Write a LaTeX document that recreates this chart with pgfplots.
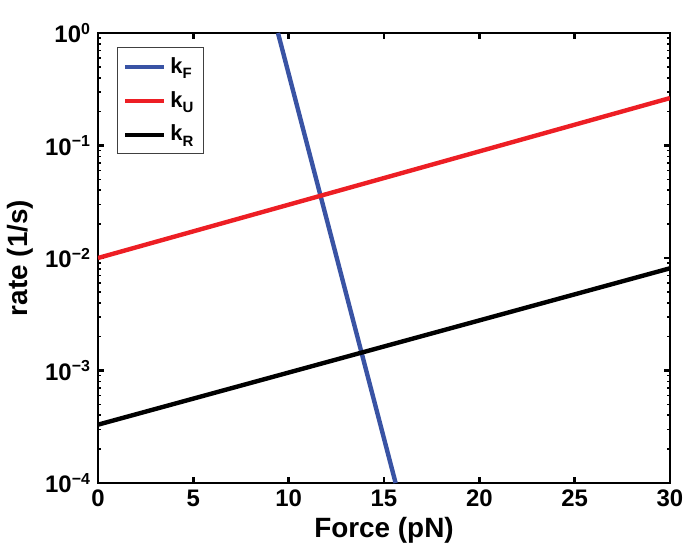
\documentclass[border=0pt]{standalone}
\usepackage{fontspec}
\setmainfont{Liberation Sans}
\usepackage{pgfplots}
\pgfplotsset{compat=1.18}
\definecolor{kfblue}{RGB}{57,83,164}
\definecolor{kured}{RGB}{237,30,36}
\newcommand{\ksub}[1]{k\raisebox{-0.45ex}{\fontsize{7.5}{8}\selectfont #1}}
\begin{document}
\begin{tikzpicture}
\useasboundingbox (-49bp,-31.5bp) rectangle (295bp,241.5bp);
\begin{axis}[
  at={(0,0)}, anchor=south west,
  scale only axis, width=286bp, height=225bp,
  xmin=0, xmax=30, ymode=log, ymin=1e-4, ymax=1,
  xtick={0,5,10,15,20,25,30},
  ytick={1e-4,1e-3,1e-2,1e-1,1},
  yticklabels={10\textsuperscript{−4},10\textsuperscript{−3},10\textsuperscript{−2},10\textsuperscript{−1},10\textsuperscript{0}},
  minor ytick={2e-4,3e-4,4e-4,5e-4,6e-4,7e-4,8e-4,9e-4,
               2e-3,3e-3,4e-3,5e-3,6e-3,7e-3,8e-3,9e-3,
               2e-2,3e-2,4e-2,5e-2,6e-2,7e-2,8e-2,9e-2,
               2e-1,3e-1,4e-1,5e-1,6e-1,7e-1,8e-1,9e-1},
  /pgf/number format/assume math mode=true,
  tick label style={font=\bfseries\fontsize{12}{14}\selectfont},
  axis line style={line width=1.4bp},
  major tick style={line width=1.2bp, black},
  minor tick style={line width=0.8bp, black},
  major tick length=3bp, minor tick length=1.6bp,
  tick align=inside,
  xlabel={Force (pN)}, ylabel={rate (1/s)},
  every axis x label/.style={at={(axis description cs:0.5,-0.104)}, anchor=center,
    font=\bfseries\fontsize{14}{16}\selectfont},
  every axis y label/.style={at={(axis description cs:-0.136,0.5)}, rotate=90, anchor=center,
    font=\bfseries\fontsize{14}{16}\selectfont},
  legend style={at={(0.033,0.969)}, anchor=north west, draw=black!75, line width=0.5bp,
    font=\bfseries\fontsize{11}{12}\selectfont, row sep=3.5bp, inner xsep=3bp, inner ysep=3bp},
  legend cell align=left,
  legend image code/.code={\draw[#1, line width=2bp] (0bp,0bp) -- (19.5bp,0bp);},
]
\addplot[kfblue, line width=2.2bp] coordinates {(9.44,1) (15.61,1e-4)};
\addlegendentry{\ksub{F}}
\addplot[kured, line width=2.2bp] coordinates {(0,0.0100) (30,0.264)};
\addlegendentry{\ksub{U}}
\addplot[black, line width=2.2bp] coordinates {(0,3.3e-4) (30,8.1e-3)};
\addlegendentry{\ksub{R}}
\end{axis}
\end{tikzpicture}
\end{document}
